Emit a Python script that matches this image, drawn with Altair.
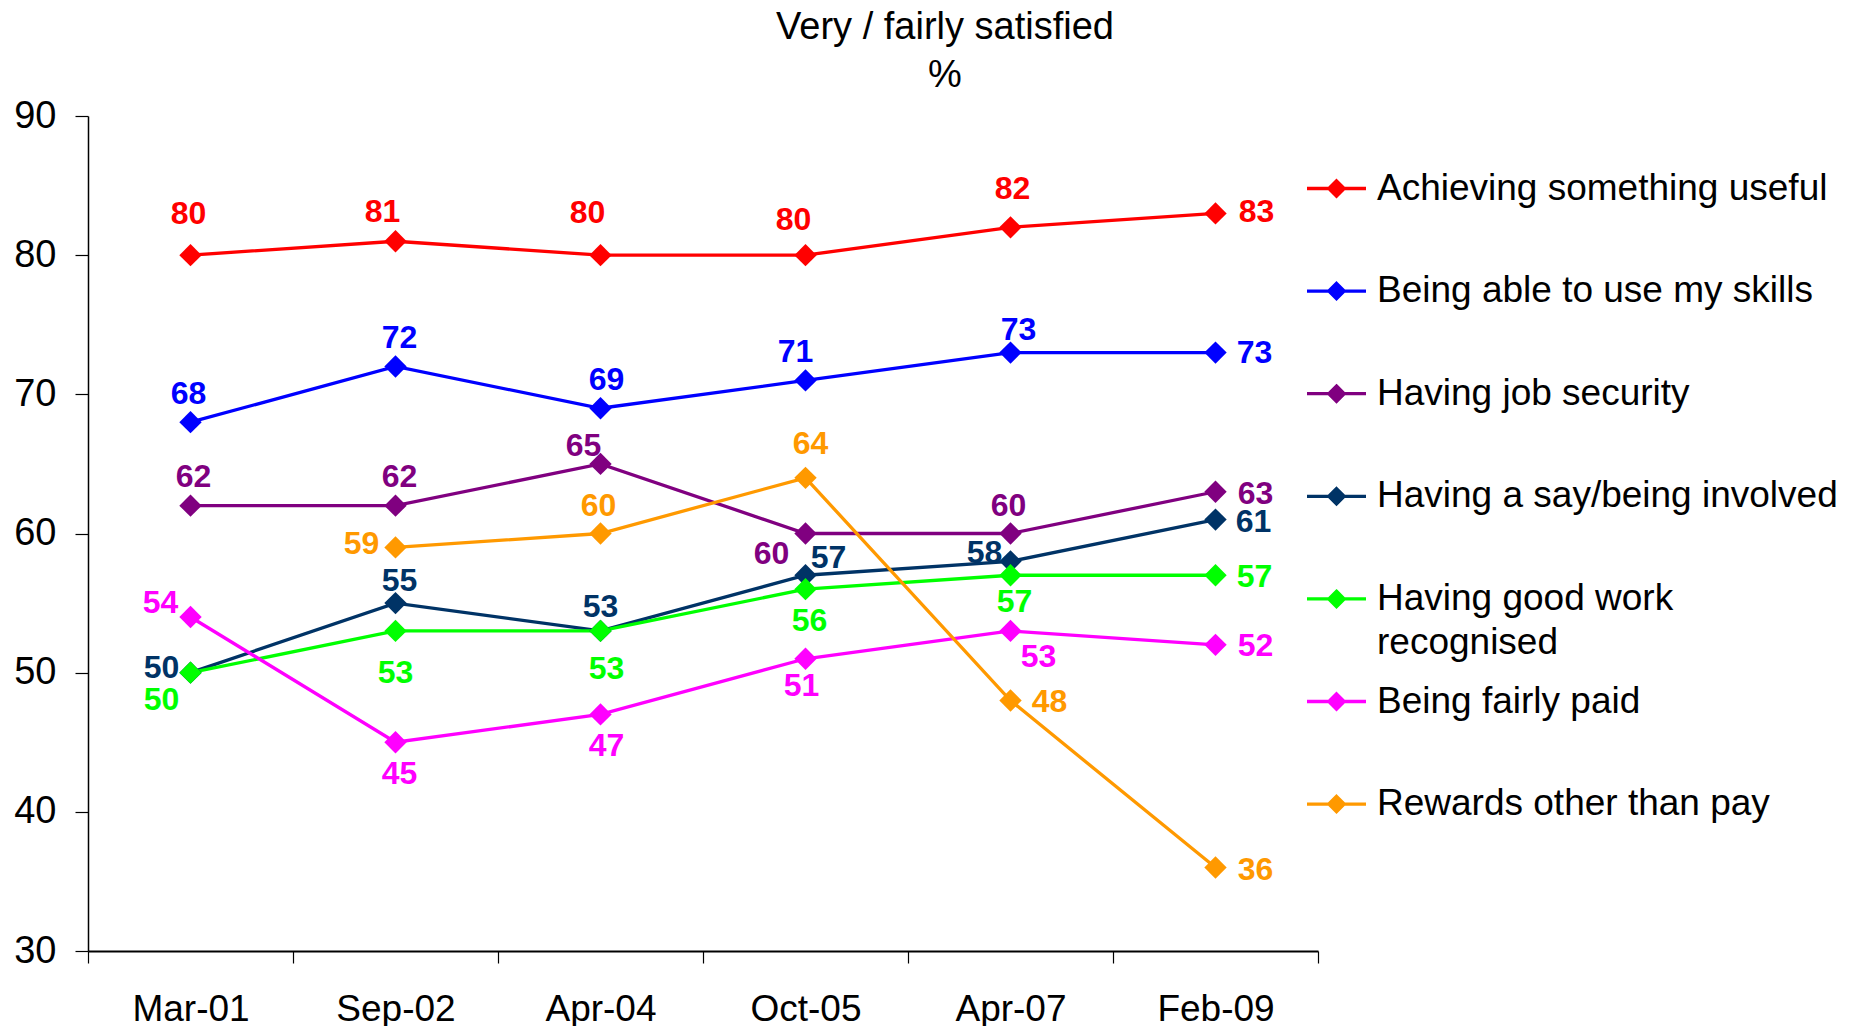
import altair as alt
import pandas as pd

# ---------------- data ----------------
dates = ["Mar-01", "Sep-02", "Apr-04", "Oct-05", "Apr-07", "Feb-09"]
series_names = [
    "Achieving something useful",
    "Being able to use my skills",
    "Having job security",
    "Having a say/being involved",
    "Having good work recognised",
    "Being fairly paid",
    "Rewards other than pay",
]
achieving = [80, 81, 80, 80, 82, 83]
skills = [68, 72, 69, 71, 73, 73]
security = [62, 62, 65, 60, 60, 63]
say = [50, 55, 53, 57, 58, 61]
recognised = [50, 53, 53, 56, 57, 57]
paid = [54, 45, 47, 51, 53, 52]
rewards = [None, 59, 60, 64, 48, 36]
values = [achieving, skills, security, say, recognised, paid, rewards]

# ---------------- styles ----------------
colors = ["#FF0000", "#0000FF", "#800080", "#003366", "#00FF00", "#FF00FF", "#FF9900"]
line_widths = [3.3, 3.3, 3.3, 3.3, 6, 3.3, 2.8]

# label placement (pixel offsets of each data label from its point)
label_offsets = [
    [(-2, -41), (-13, -29), (-13, -42), (-12, -35), (2, -38), (41, -1)],
    [(-2, -28), (4, -29), (6, -28), (-10, -28), (8, -23), (39, 0)],
    [(3, -29), (4, -29), (-17, -18), (-34, 20), (-2, -28), (40, 2)],
    [(-29, -5), (4, -22), (0, -24), (23, -17), (-26, -8), (38, 2)],
    [(-29, 27), (0, 42), (6, 38), (4, 32), (4, 27), (39, 2)],
    [(-30, -14), (4, 32), (6, 32), (-4, 27), (28, 26), (40, 1)],
    [None, (-34, -3), (-2, -28), (5, -34), (39, 1), (40, 2)],
]

FONT = "Liberation Sans"

rows = []
for si, name in enumerate(series_names):
    for di, d in enumerate(dates):
        v = values[si][di]
        if v is None:
            continue
        dx, dy = label_offsets[si][di]
        rows.append({"series": name, "date": d, "value": v, "dx": dx, "dy": dy, "order": si})
df = pd.DataFrame(rows)

x_enc = alt.X(
    "date:N",
    sort=dates,
    scale=alt.Scale(type="band", domain=dates, paddingInner=0, paddingOuter=0),
    axis=alt.Axis(
        title=None, labelAngle=0, tickBand="extent", tickSize=12, labelPadding=28,
        labelFontSize=37, labelFont=FONT, labelColor="black", domainColor="black",
        domainWidth=2.2, tickColor="black", tickWidth=1.2, grid=False,
    ),
)
y_enc = alt.Y(
    "value:Q",
    scale=alt.Scale(domain=[30, 90], nice=False, zero=False),
    axis=alt.Axis(
        title=None, values=[30, 40, 50, 60, 70, 80, 90], tickSize=13, labelPadding=19,
        labelFontSize=38, labelFont=FONT, labelColor="black", domainColor="black",
        domainWidth=1.5, tickColor="black", tickWidth=1.2, grid=False,
    ),
)
color_scale = alt.Scale(domain=series_names, range=colors)

legend_symbol = (
    "M-1,0H1"
    "M0,-0.26L0.26,0L0,0.26L-0.26,0Z"
    "M0,-0.17L0.17,0L0,0.17L-0.17,0Z"
    "M0,-0.08L0.08,0L0,0.08L-0.08,0Z"
)

lines = alt.Chart(df).mark_line().encode(
    x=x_enc,
    y=y_enc,
    color=alt.Color(
        "series:N", scale=color_scale,
        legend=alt.Legend(
            title=None, orient="none", legendX=1217, legendY=41,
            symbolType=legend_symbol, symbolSize=3481, symbolStrokeWidth=3,
            labelFontSize=37, labelFont=FONT, labelColor="black", labelLimit=0,
            labelOffset=9, rowPadding=8.6, padding=0, gridAlign="all",
            labelExpr="datum.label == 'Having good work recognised' ? ['Having good work', 'recognised'] : datum.label",
        ),
    ),
    strokeWidth=alt.StrokeWidth("series:N", scale=alt.Scale(domain=series_names, range=line_widths), legend=None),
    order=alt.Order("order:Q"),
)

points = alt.Chart(df).mark_point(shape="diamond", filled=True, size=500, opacity=1).encode(
    x=x_enc, y=y_enc,
    color=alt.Color("series:N", scale=color_scale, legend=None),
)

layers = [lines, points]
offset_pairs = sorted(set(zip(df["dx"], df["dy"])))
for dx, dy in offset_pairs:
    layers.append(
        alt.Chart(df)
        .transform_filter(f"datum.dx == {dx} && datum.dy == {dy}")
        .mark_text(dx=int(dx), dy=int(dy), fontSize=32, fontWeight="bold", font=FONT,
                   align="center", baseline="middle")
        .encode(
            x=x_enc, y=y_enc, text=alt.Text("value:Q"),
            color=alt.Color("series:N", scale=color_scale, legend=None),
        )
    )

chart = (
    alt.layer(*layers)
    .properties(
        width=1230,
        height=835,
        padding={"left": 80, "top": 108, "right": 525, "bottom": 75},
        autosize=alt.AutoSizeParams(type="none"),
        title=alt.TitleParams(
            text=["Very / fairly satisfied", "%"], fontSize=38, font=FONT, fontWeight="normal",
            color="black", anchor="middle", dx=242, offset=2, lineHeight=48,
        ),
    )
    .configure(
        background="white",
        style={"guide-label": {"lineHeight": 44}},
        view=alt.ViewConfig(strokeWidth=0, stroke="transparent"),
    )
)

chart.save("out.html", embed_options={"renderer": "svg", "actions": False})
